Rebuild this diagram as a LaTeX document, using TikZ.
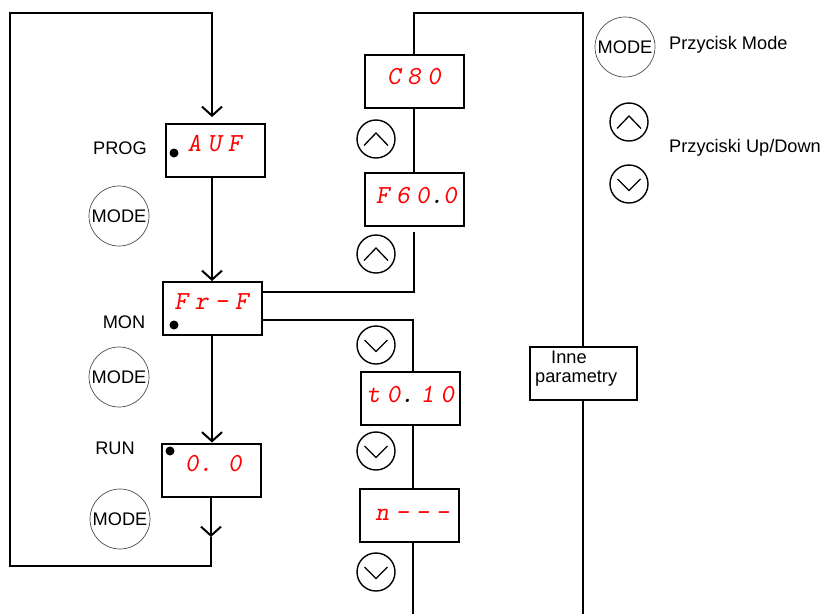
\documentclass[tikz,border=0pt]{standalone}
\usepackage{fontspec}
\newfontfamily\labfont{Liberation Sans}
\usetikzlibrary{arrows.meta}
\newcommand\segfont{\ttfamily\slshape\fontsize{26}{28}\selectfont}
\newcommand\dsp{\hspace{0.25em}}
\newcommand\upchev[1]{\draw[chev] ([shift={(-12,6.5)}]#1.center) -- ([shift={(0,-6)}]#1.center) -- ([shift={(12,6.5)}]#1.center);}
\newcommand\dnchev[1]{\draw[chev] ([shift={(-11.5,-5)}]#1.center) -- ([shift={(0,6.5)}]#1.center) -- ([shift={(11.5,-5)}]#1.center);}
\begin{document}
\begin{tikzpicture}[x=1pt,y=-1pt,
	flow/.style={line width=2pt},
	barb/.style={-{Straight Barb[length=9pt,width=20pt]}},
	dispbox/.style={draw,line width=2pt,minimum width=99pt,minimum height=53pt,inner sep=0pt},
	segtxt/.style={text=red,font=\segfont,inner sep=0pt,anchor=base},
	lab/.style={font=\labfont\fontsize{18.2}{19.5}\selectfont,inner sep=0pt},
	modekey/.style={circle,draw=black!70,line width=0.7pt,minimum size=60pt,inner sep=0pt,lab},
	arrkey/.style={circle,draw,line width=1.4pt,minimum size=38pt,inner sep=0pt},
	chev/.style={line width=1.3pt},
	dot/.style={circle,fill,minimum size=9pt,inner sep=0pt}]
	\useasboundingbox (0,0) rectangle (827,614);
	% displays
	\node[dispbox] (auf) at (215,150.5) {};
	\node[dispbox] (frf) at (212,308.5) {};
	\node[dispbox] (run) at (211.5,470) {};
	\node[dispbox] (c80) at (414,81) {};
	\node[dispbox] (f60) at (414,199.5) {};
	\node[dispbox] (t010) at (410,398) {};
	\node[dispbox] (nnn) at (409,515) {};
	\node[dispbox,minimum width=107pt] (inne) at (583,373.5) {};
	\node[segtxt] (auf t) at (214.5,151.5) {A\dsp U\dsp F};
	\node[segtxt] (frf t) at (211.5,309) {F\dsp r\dsp -\dsp F};
	\node[segtxt] (run t) at (213.5,471) {0.\hspace{0.6em}0};
	\node[segtxt] (c80 t) at (414,84) {C\dsp 8\dsp 0};
	\node[segtxt] (f60 t) at (416.5,203) {F\dsp 6\dsp 0{\color{black}.}0};
	\node[segtxt] (t010 t) at (410.5,402) {t\dsp 0{\color{black}.}\dsp 1\dsp 0};
	\node[segtxt] (nnn t) at (412.5,520) {n\dsp -\dsp -\dsp -};
	\node[dot] (auf dot) at (174,153) {};
	\node[dot] (frf dot) at (174,325) {};
	\node[dot] (run dot) at (170,451) {};
	\node[lab,anchor=base west] (inne t1) at (551,363) {Inne};
	\node[lab,anchor=base west] (inne t2) at (535,382) {parametry};
	% mode labels
	\node[lab] (prog) at (120,148) {PROG};
	\node[lab] (mon) at (124,322) {MON};
	\node[lab] (runl) at (115,448) {RUN};
	% keys
	\node[modekey] (mode1) at (119,216) {MODE};
	\node[modekey] (mode2) at (119,377) {MODE};
	\node[modekey] (mode3) at (120,519) {MODE};
	\node[arrkey] (up1) at (376,139) {}; \upchev{up1}
	\node[arrkey] (up2) at (376,254) {}; \upchev{up2}
	\node[arrkey] (dn1) at (376,345) {}; \dnchev{dn1}
	\node[arrkey] (dn2) at (376,451) {}; \dnchev{dn2}
	\node[arrkey] (dn3) at (376,572) {}; \dnchev{dn3}
	% legend
	\node[modekey] (mode key) at (625,47) {MODE};
	\node[lab,anchor=west] (mode txt) at (669,45) {Przycisk Mode};
	\node[arrkey] (up key) at (629,122) {}; \upchev{up key}
	\node[arrkey] (dn key) at (629,184) {}; \dnchev{dn key}
	\node[lab,anchor=west] (updown txt) at (669,148) {Przyciski Up/Down};
	% connectors
	\coordinate (top l) at (10,13);
	\coordinate (top r) at (212,13);
	\coordinate (auf in) at (212,117);
	\coordinate (run mid) at (211,537);
	\coordinate (bot r) at (211,566);
	\coordinate (bot l) at (10,566);
	\coordinate (mid top) at (414,13);
	\coordinate (side top) at (583,13);
	\coordinate (side end) at (583,614);
	\coordinate (f60 out) at (414,232);
	\coordinate (frf up) at (414,292);
	\coordinate (frf dn) at (413,320);
	\coordinate (mid end) at (413,614);
	\draw[flow,barb] (run.south -| run mid) -- (run mid);
	\draw[flow,barb] (run mid) -- (bot r) -- (bot l) -- (top l) -- (top r) -- (auf in);
	\draw[flow,barb] (auf.south -| top r) -- (frf.north -| top r);
	\draw[flow,barb] (frf.south -| top r) -- (run.north -| top r);
	\draw[flow] (c80.north) -- (mid top) -- (side top) -- (inne.north);
	\draw[flow] (inne.south) -- (side end);
	\draw[flow] (c80.south) -- (f60.north);
	\draw[flow] (f60 out) -- (frf up) -- (frf up -| frf.east);
	\draw[flow] (frf dn -| frf.east) -- (frf dn) -- (frf dn |- t010.north);
	\draw[flow] (t010.south -| frf dn) -- (nnn.north -| frf dn);
	\draw[flow] (nnn.south -| frf dn) -- (mid end);
\end{tikzpicture}
\end{document}
